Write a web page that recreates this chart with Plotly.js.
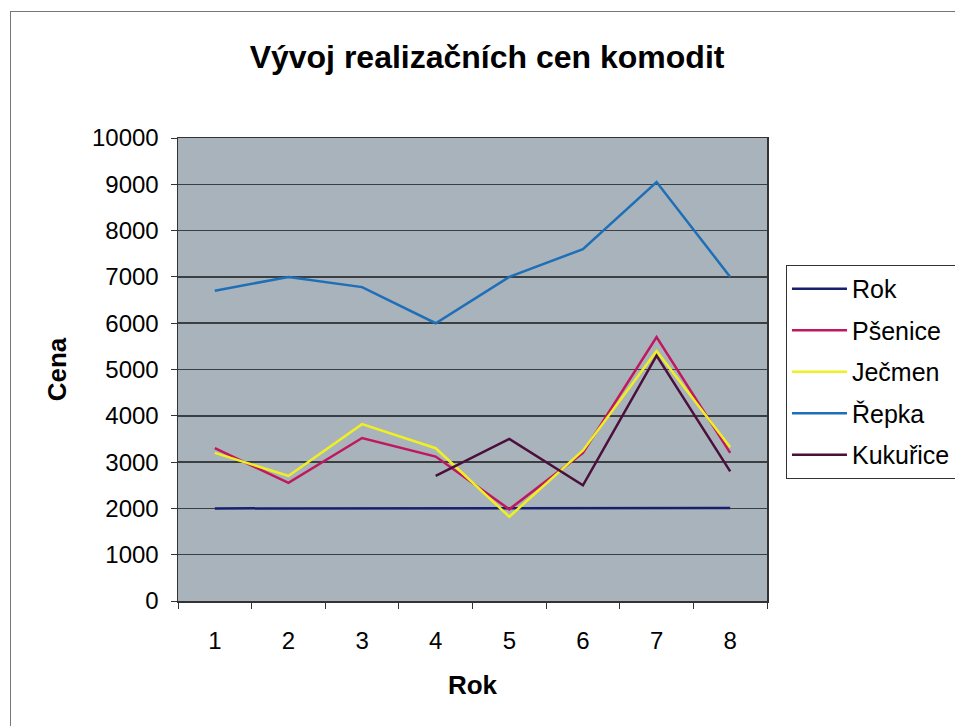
<!DOCTYPE html>
<html>
<head>
<meta charset="utf-8">
<script src="https://cdn.plot.ly/plotly-3.0.1.min.js"></script>
<style>
  html, body { margin:0; padding:0; background:#fff; }
  #frame { position:absolute; left:10px; top:11px; width:1000px; height:800px; border-left:1px solid #777; border-top:1px solid #777; pointer-events:none; z-index:5; }
  #chart { width:955px; height:726px; }
</style>
</head>
<body>
<div id="frame"></div>
<div id="chart"></div>
<script>
const years = ["1","2","3","4","5","6","7","8"];
const rok      = [2000, 2001, 2002, 2003, 2004, 2005, 2006, 2007];
const psenice  = [3300, 2550, 3520, 3120, 1980, 3200, 5700, 3200];
const jecmen   = [3200, 2700, 3820, 3300, 1820, 3250, 5400, 3320];
const repka    = [6700, 7000, 6780, 6000, 7000, 7600, 9050, 7000];
const kukurice = [null, null, null, 2700, 3500, 2500, 5300, 2800];

const names  = ["Rok", "Pšenice", "Ječmen", "Řepka", "Kukuřice"];
const series = [rok, psenice, jecmen, repka, kukurice];
const colors = ["#16206e", "#c0185e", "#f0f020", "#1e6fb8", "#4a0f3a"];

const traces = series.map((vals, i) => ({
  type: "scatter", mode: "lines", name: names[i], x: years, y: vals,
  legendgroup: "g" + i,
  line: { color: colors[i], width: 2.5 },
  connectgaps: false
}));

const font = "Liberation Sans, Arial, sans-serif";
const layout = {
  width: 955, height: 726,
  margin: { l: 178, r: 188, t: 138, b: 125 },
  paper_bgcolor: "#ffffff",
  plot_bgcolor: "#a9b3bc",
  font: { family: font, size: 24, color: "#000" },
  title: { text: "<b>Vývoj realizačních cen komodit</b>", x: 0.51, xanchor: "center", y: 0.922, yanchor: "middle", font: { family: font, size: 32, color: "#000" } },
  xaxis: {
    type: "category", range: [-0.5, 7.5], tickson: "boundaries",
    ticks: "outside", ticklen: 6, tickcolor: "#333", tickwidth: 1,
    showline: true, linecolor: "#333", linewidth: 1.5, mirror: true,
    showgrid: false, ticklabelstandoff: 18,
    tickfont: { family: font, size: 24 },
    title: { text: "<b>Rok</b>", standoff: 22, font: { family: font, size: 26 } }
  },
  yaxis: {
    range: [0, 10000], dtick: 1000, tickformat: "d",
    ticks: "outside", ticklen: 6, tickcolor: "#333", tickwidth: 1,
    showline: true, linecolor: "#333", linewidth: 1.5, mirror: true,
    showgrid: true, gridcolor: "#3c3f42", gridwidth: 1.5, zeroline: false,
    ticklabelstandoff: 7,
    tickfont: { family: font, size: 24 },
    title: { text: "<b>Cena</b>", standoff: 18, font: { family: font, size: 26 } }
  },
  legend: {
    xref: "container", yref: "container",
    x: 0.823, xanchor: "left", y: 0.635, yanchor: "top",
    bgcolor: "#ffffff", bordercolor: "#333", borderwidth: 1,
    font: { family: font, size: 25 }, traceorder: "grouped", tracegroupgap: 6,
    itemwidth: 55
  },
  showlegend: true
};

Plotly.newPlot("chart", traces, layout, { displayModeBar: false, staticPlot: true });
</script>
</body>
</html>
